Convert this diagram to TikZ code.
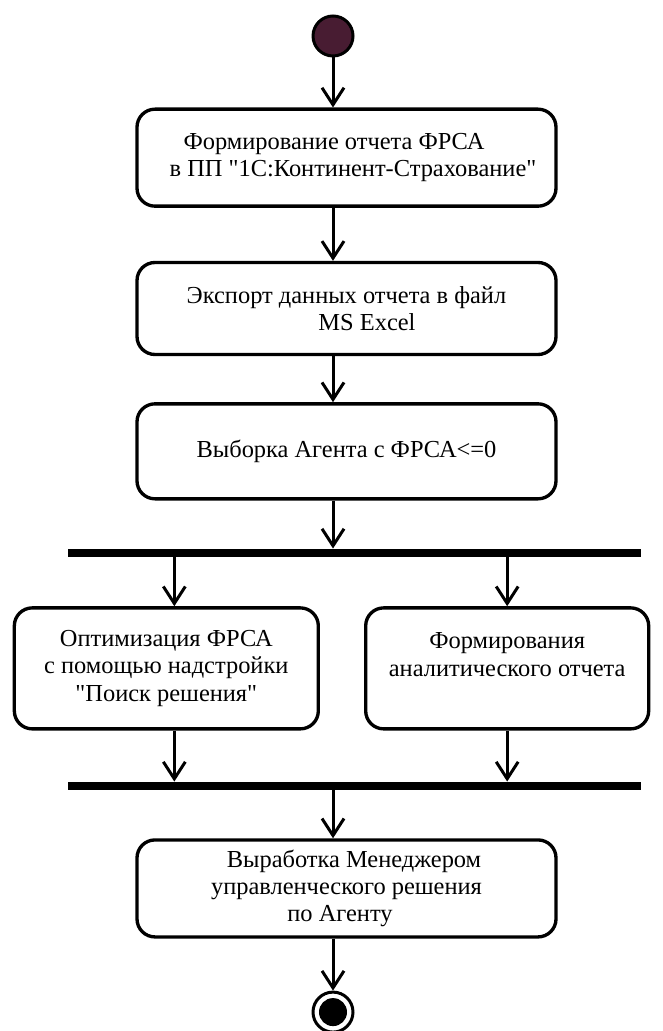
\documentclass[tikz,border=0pt]{standalone}
\usepackage{fontspec}
\setmainfont{Liberation Serif}[Ligatures=TeXOff]
\usetikzlibrary{arrows.meta, positioning}

\definecolor{startfill}{RGB}{72,28,50}

\begin{document}
\begin{tikzpicture}[
    action/.style={rectangle, rounded corners=0.36cm, draw, line width=1.9pt, minimum width=8.38cm, minimum height=1.9cm, align=center, inner sep=0.1cm, font=\fontsize{13.9pt}{15.6pt}\selectfont},
    side/.style={action, minimum height=2.42cm},
    bar/.style={rectangle, fill=black, minimum width=11.46cm, minimum height=0.16cm, inner sep=0pt},
    startpt/.style={circle, draw, line width=1.7pt, fill=startfill, minimum size=0.8cm, inner sep=0pt},
    endpt/.style={circle, draw, line width=1.7pt, fill=white, minimum size=0.8cm, inner sep=0pt},
    arrow/.style={-{Straight Barb[length=0.34cm, width=0.44cm]}, line width=1.7pt}
]
    \useasboundingbox (0,0) rectangle (13.26,-20.62);

    % Main column
    \node[startpt] (start) at (6.66,-0.72) {};
    \node[action, below=1.0cm of start, xshift=0.27cm, minimum height=1.94cm] (report) {Формирование отчета ФРСА\hspace*{0.5cm}\\\hspace*{0.26cm}в ПП "1С:Континент-Страхование"};
    \node[action, below=1.06cm of report, minimum height=1.84cm] (export) {Экспорт данных отчета в файл\\\hspace*{0.82cm}MS Excel};
    \node[action, below=0.92cm of export] (select) {Выборка Агента с ФРСА<=0};

    % Fork, two parallel branches, join
    \node[bar, below=0.96cm of select, xshift=0.16cm] (fork) {};
    \node[side, below=0.98cm of fork.south west, anchor=north west, xshift=-1.1cm, minimum width=6.08cm] (optim) {Оптимизация ФРСА\\с помощью надстройки\\"Поиск решения"};
    \node[side, below=0.98cm of fork.south east, anchor=north east, xshift=0.18cm, minimum width=5.66cm] (analysis) {Формирования\\аналитического отчета\\\mbox{}};
    \node[bar, below=1.02cm of optim.south -| fork] (join) {};

    \node[action, below=0.96cm of join, xshift=-0.16cm, minimum height=1.94cm] (decision) {\hspace*{0.3cm}Выработка Менеджером\\управленческого решения\hspace*{0.3cm}\\по Агенту\hspace*{0.26cm}};
    \node[endpt, below=1.04cm of decision, xshift=-0.27cm] (end) {};
    \fill (end) circle (0.28cm);

    \draw[arrow] (start) -- (start |- report.north);
    \draw[arrow] (start |- report.south) -- (start |- export.north);
    \draw[arrow] (start |- export.south) -- (start |- select.north);
    \draw[arrow] (start |- select.south) -- (start |- fork.north);
    \draw[arrow] ([xshift=0.16cm]optim.north |- fork.south) -- ([xshift=0.16cm]optim.north);
    \draw[arrow] (analysis.north |- fork.south) -- (analysis.north);
    \draw[arrow] ([xshift=0.16cm]optim.south) -- ([xshift=0.16cm]optim.south |- join.north);
    \draw[arrow] (analysis.south) -- (analysis.south |- join.north);
    \draw[arrow] (start |- join.south) -- (start |- decision.north);
    \draw[arrow] (start |- decision.south) -- (end);
\end{tikzpicture}
\end{document}
